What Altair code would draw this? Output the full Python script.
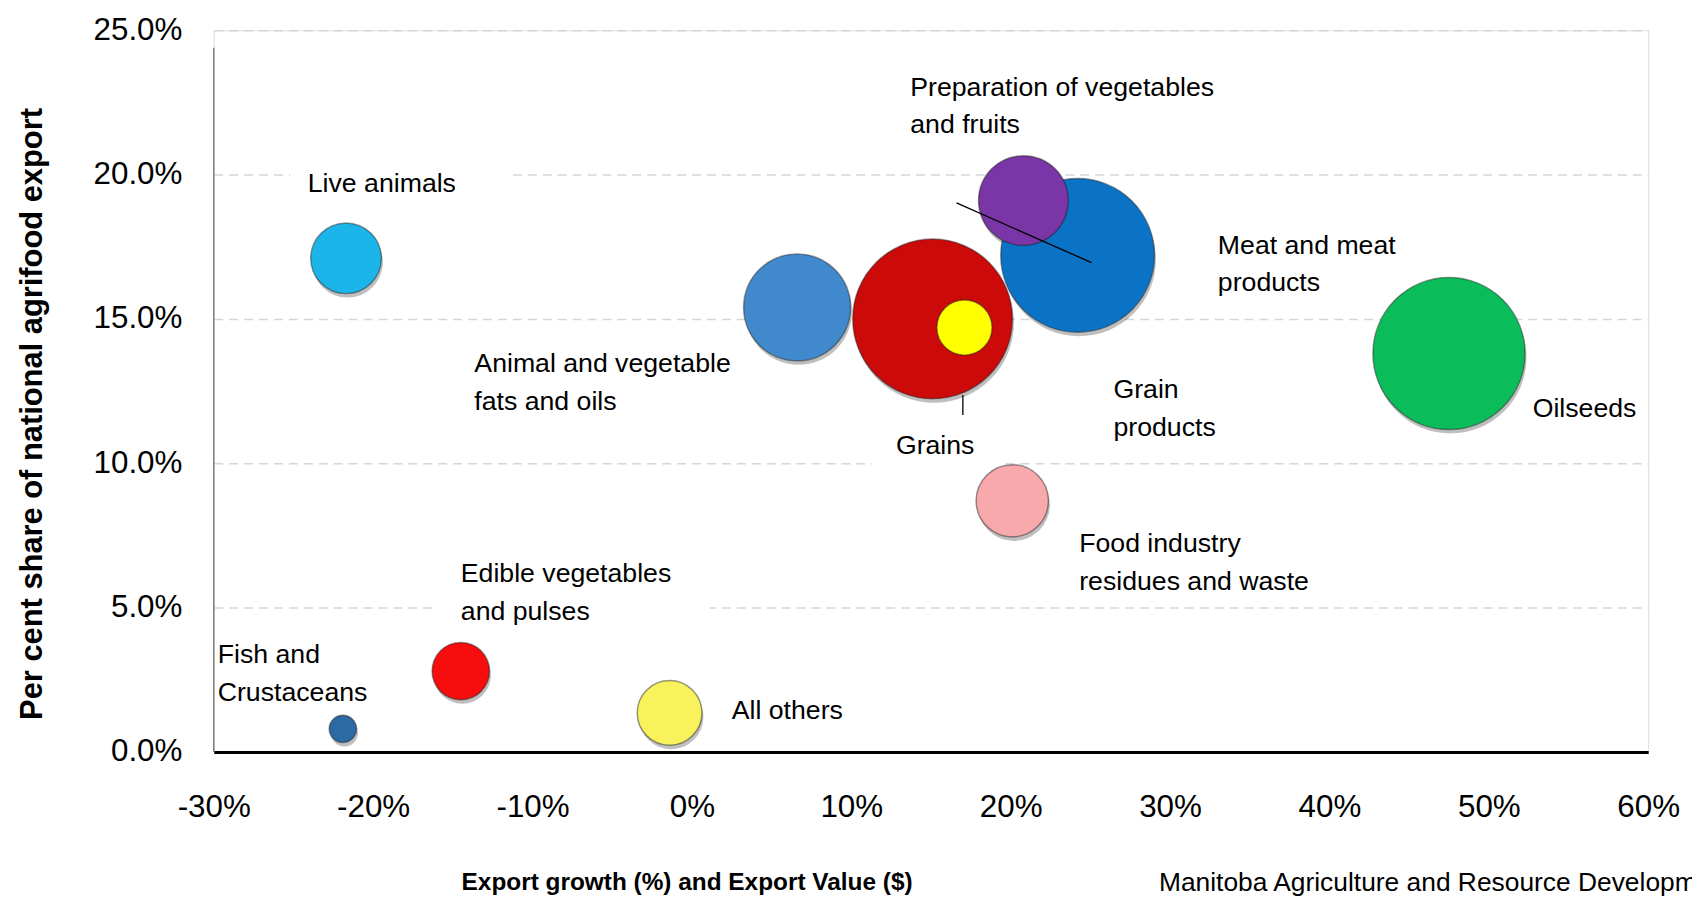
import altair as alt
import pandas as pd

# ---- data -------------------------------------------------------------
categories = [
    "Live animals", "Fish and Crustaceans", "Edible vegetables and pulses", "All others",
    "Animal and vegetable fats and oils", "Meat and meat products", "Grains",
    "Preparation of vegetables and fruits", "Grain products",
    "Food industry residues and waste", "Oilseeds",
]
export_growth = [-21.7, -21.9, -14.5, -1.4, 6.6, 24.2, 15.1, 20.8, 17.1, 20.1, 47.5]   # %
national_share = [17.1, 0.8, 2.8, 1.35, 15.4, 17.2, 15.0, 19.1, 14.7, 8.7, 13.8]       # %
export_value = [630, 94, 415, 528, 1442, 2980, 3216, 1017, 384, 659, 2918]            # relative $
bubble_colors = ["#1cb5ea", "#2b6aa3", "#f70d0d", "#f8f25c", "#3f89cc", "#0a73c6",
                 "#cc0a0a", "#7a35a6", "#ffff00", "#f7a9ac", "#0bbd5a"]

# annotation labels (data coordinates)
label_text = [
    "Live animals", "Fish and\nCrustaceans", "Edible vegetables\nand pulses", "All others",
    "Animal and vegetable\nfats and oils", "Meat and meat\nproducts", "Grains",
    "Preparation of vegetables\nand fruits", "Grain\nproducts",
    "Food industry\nresidues and waste", "Oilseeds",
]
label_x = [-24.1, -29.75, -14.5, 2.5, -13.65, 33.0, 12.8, 13.7, 26.45, 24.3, 52.75]
label_y = [20.11, 3.80, 6.61, 1.87, 13.87, 17.99, 11.04, 23.46, 12.99, 7.65, 12.34]

# leader lines
leader_x = [16.6, 17.0]
leader_y = [19.02, 12.36]
leader_x2 = [25.07, 17.0]
leader_y2 = [16.95, 11.67]

# vertical axis line (starts a little below the top gridline)
axis_line_x = [-30]
axis_line_y = [0]
axis_line_y2 = [24.39]

# white text boxes that interrupt the gridlines
box_x = [-25.2, -16.3, 11.3]
box_x2 = [-11.24, 1.12, 19.3]
box_y = [18.6, 4.3, 9.5]
box_y2 = [20.6, 6.0, 10.5]

x_ticks = [-30, -20, -10, 0, 10, 20, 30, 40, 50, 60]
y_ticks = [0, 5, 10, 15, 20, 25]

source_note = ["Manitoba Agriculture and Resource Development"]

FONT = "Liberation Sans"

df = pd.DataFrame({
    "category": categories,
    "growth": export_growth,
    "share": national_share,
    "value": export_value,
    "order": list(range(len(categories))),
})
labels = pd.DataFrame({"text": label_text, "growth": label_x, "share": label_y})
leaders = pd.DataFrame({"growth": leader_x, "share": leader_y, "growth2": leader_x2, "share2": leader_y2})
boxes = pd.DataFrame({"growth": box_x, "growth2": box_x2, "share": box_y, "share2": box_y2})
axis_line = pd.DataFrame({"growth": axis_line_x, "share": axis_line_y, "share2": axis_line_y2})
source_df = pd.DataFrame({"text": source_note})

x_enc = alt.X(
    "growth:Q",
    scale=alt.Scale(domain=[-30, 60], nice=False, zero=False),
    axis=alt.Axis(
        values=x_ticks, labelExpr="datum.value + '%'", grid=False, ticks=False,
        domainColor="black", domainWidth=3, labelFontSize=31.5, labelFont=FONT,
        labelColor="black", labelPadding=56, labelBaseline="middle", labelFlush=False,
        title="Export growth (%) and Export Value ($)", titleFont=FONT,
        titleFontSize=24.5, titleFontWeight="bold", titleColor="black",
        titleX=475, titleY=138.7, titleBaseline="alphabetic", titleAlign="center",
    ),
)
y_enc = alt.Y(
    "share:Q",
    scale=alt.Scale(domain=[0, 25], nice=False),
    axis=alt.Axis(
        values=y_ticks, labelExpr="format(datum.value, '.1f') + '%'", grid=True,
        gridDash=[9, 6], gridColor="#d6d6d6", gridWidth=1.5, ticks=False,
        domain=False, labelFontSize=31.5, labelFont=FONT,
        labelColor="black", labelPadding=32, labelFlush=False,
        title="Per cent share of national agrifood export", titleFont=FONT,
        titleFontSize=31, titleFontWeight="bold", titleColor="black",
        titleAngle=-90, titleX=-182, titleY=385, titleBaseline="middle", titleAlign="center",
    ),
)

size_scale = alt.Scale(domain=[0, 3216], range=[0, 25728], zero=True)

box_layer = alt.Chart(boxes).mark_rect(color="white").encode(
    x="growth:Q", x2="growth2:Q", y="share:Q", y2="share2:Q"
)

axis_line_layer = alt.Chart(axis_line).mark_rule(color="#7f7f7f", strokeWidth=1.5).encode(
    x="growth:Q", y="share:Q", y2="share2:Q"
)

shadow_layer = alt.Chart(df).mark_circle(color="black", opacity=0.25, yOffset=4, xOffset=1.5).encode(
    x=x_enc, y=y_enc,
    size=alt.Size("value:Q", scale=size_scale, legend=None),
    order=alt.Order("order:Q"),
)

bubble_layer = alt.Chart(df).mark_circle(
    opacity=1, stroke="#202020", strokeOpacity=0.45, strokeWidth=1.5
).encode(
    x=x_enc, y=y_enc,
    size=alt.Size("value:Q", scale=size_scale, legend=None),
    color=alt.Color("category:N", scale=alt.Scale(domain=categories, range=bubble_colors), legend=None),
    order=alt.Order("order:Q"),
)

leader_layer = alt.Chart(leaders).mark_rule(color="black", strokeWidth=1.3).encode(
    x="growth:Q", y="share:Q", x2="growth2:Q", y2="share2:Q"
)

label_layer = alt.Chart(labels).mark_text(
    align="left", baseline="top", font=FONT, fontSize=26.8, color="black",
    lineBreak="\n", lineHeight=38,
).encode(x="growth:Q", y="share:Q", text="text:N")

source_layer = alt.Chart(source_df).mark_text(
    align="left", baseline="alphabetic", font=FONT, fontSize=26.5, color="black",
).encode(x=alt.value(949.5), y=alt.value(864.7), text="text:N")

chart = alt.layer(
    box_layer, axis_line_layer, shadow_layer, bubble_layer, leader_layer, label_layer, source_layer
).properties(
    width=1441,
    height=725,
    autosize=alt.AutoSizeParams(type="none"),
    padding={"left": 206.7, "top": 20.3, "right": 44, "bottom": 145.5},
).configure_view(stroke=None).configure(background="white")

chart.save("out.html", embed_options={"renderer": "svg", "actions": False})
